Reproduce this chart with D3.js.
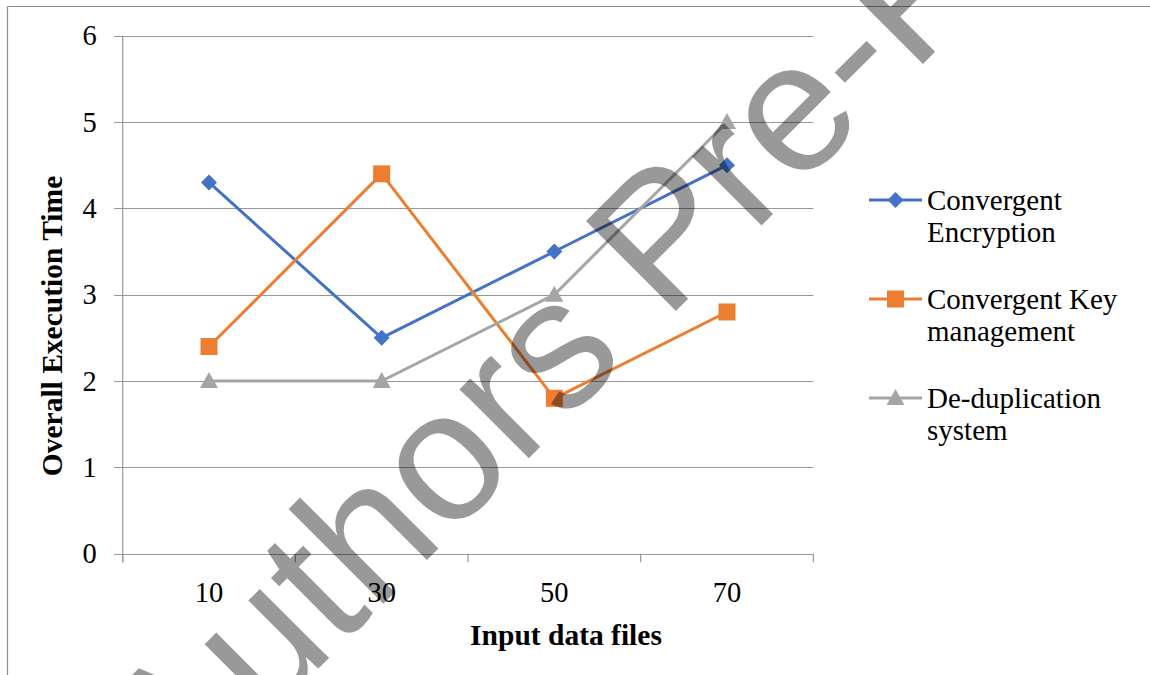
<!DOCTYPE html>
<html>
<head>
<meta charset="utf-8">
<script src="https://cdn.jsdelivr.net/npm/d3@7/dist/d3.min.js"></script>
<style>
  html, body { margin: 0; padding: 0; background: #fff; }
  svg { display: block; }
</style>
</head>
<body>
<svg id="chart" width="1150" height="675"></svg>
<script>
// Data
const categories = ["10", "30", "50", "70"];
const yTicks = [0, 1, 2, 3, 4, 5, 6];
const convergentEncryption = [4.3, 2.5, 3.5, 4.5];
const convergentKeyManagement = [2.4, 4.4, 1.8, 2.8];
const deduplicationSystem = [2.0, 2.0, 3.0, 5.0];
const seriesNames = [["Convergent", "Encryption"], ["Convergent Key", "management"], ["De-duplication", "system"]];

const series = [
  { name: seriesNames[0], values: convergentEncryption, color: "#4472c4", marker: "diamond" },
  { name: seriesNames[1], values: convergentKeyManagement, color: "#ed7d31", marker: "square" },
  { name: seriesNames[2], values: deduplicationSystem, color: "#a5a5a5", marker: "triangle" }
];

const svg = d3.select("#chart");
const serif = "'Liberation Serif', 'Times New Roman', serif";

// Outer frame (top and left edges visible)
svg.append("line").attr("x1", 7.5).attr("x2", 1150).attr("y1", 6.5).attr("y2", 6.5)
  .attr("stroke", "#8c8c8c").attr("stroke-width", 1.2);
svg.append("line").attr("x1", 7.5).attr("x2", 7.5).attr("y1", 6.5).attr("y2", 675)
  .attr("stroke", "#8c8c8c").attr("stroke-width", 1.2);

const plot = { left: 122.7, right: 813.3, top: 35.7, bottom: 553.7 };

const x = d3.scaleBand().domain(categories).range([plot.left, plot.right]).padding(0);
const y = d3.scaleLinear().domain([0, 6]).range([plot.bottom, plot.top]);

const axisColor = "#979797";

// Horizontal gridlines (extend slightly left of the axis as tick marks)
svg.append("g").selectAll("line").data(yTicks).join("line")
  .attr("x1", plot.left - 8.6).attr("x2", plot.right)
  .attr("y1", d => Math.round(y(d)) + 0.5).attr("y2", d => Math.round(y(d)) + 0.5)
  .attr("stroke", axisColor).attr("stroke-width", 1.2);

// Y axis labels
const yAxis = d3.axisLeft(y).tickValues(yTicks).tickSize(0).tickPadding(26).tickFormat(d3.format("d"));
const gy = svg.append("g").attr("transform", `translate(${plot.left},0)`).call(yAxis);
gy.select(".domain").remove();
gy.selectAll("text").attr("font-family", serif).attr("font-size", 28.5).attr("fill", "#000");

// Vertical axis line
svg.append("line").attr("x1", plot.left).attr("x2", plot.left)
  .attr("y1", plot.top).attr("y2", plot.bottom + 8.5)
  .attr("stroke", axisColor).attr("stroke-width", 1.2);

// X axis: category labels at band centers, ticks on band edges
const xAxis = d3.axisBottom(x).tickSize(0).tickPadding(28);
const gx = svg.append("g").attr("transform", `translate(0,${plot.bottom})`).call(xAxis);
gx.select(".domain").remove();
gx.selectAll("text").attr("font-family", serif).attr("font-size", 28.5).attr("fill", "#000");

const edges = categories.map(c => x(c)).concat([x(categories[categories.length - 1]) + x.bandwidth()]);
svg.append("g").selectAll("line").data(edges).join("line")
  .attr("x1", d => d).attr("x2", d => d)
  .attr("y1", plot.bottom).attr("y2", plot.bottom + 8.5)
  .attr("stroke", axisColor).attr("stroke-width", 1.2);

// Axis titles
svg.append("text")
  .attr("x", 566).attr("y", 645)
  .attr("text-anchor", "middle")
  .attr("font-family", serif).attr("font-size", 29.5).attr("font-weight", "bold")
  .text("Input data files");

svg.append("text")
  .attr("transform", "translate(61.5,326) rotate(-90)")
  .attr("text-anchor", "middle")
  .attr("font-family", serif).attr("font-size", 29.5).attr("font-weight", "bold")
  .text("Overall Execution Time");

// Marker shapes
function markerPath(type) {
  if (type === "diamond") return "M0,-8L8,0L0,8L-8,0Z";
  if (type === "square") return "M-8.5,-8.5H8.5V8.5H-8.5Z";
  return "M0,-9L9,7L-9,7Z";
}

const line = d3.line()
  .x((d, i) => x(categories[i]) + x.bandwidth() / 2)
  .y(d => y(d));

series.forEach(s => {
  const g = svg.append("g");
  g.append("path").datum(s.values)
    .attr("d", line)
    .attr("fill", "none").attr("stroke", s.color).attr("stroke-width", 3)
    .attr("stroke-linejoin", "round");
  g.selectAll("path.m").data(s.values).join("path").attr("class", "m")
    .attr("transform", (d, i) => `translate(${x(categories[i]) + x.bandwidth() / 2},${y(d)})`)
    .attr("d", markerPath(s.marker))
    .attr("fill", s.color);
});

// Legend
const legendRows = [200, 299, 398];
series.forEach((s, i) => {
  const g = svg.append("g").attr("transform", `translate(0,${legendRows[i]})`);
  g.append("line").attr("x1", 869).attr("x2", 922).attr("y1", 0).attr("y2", 0)
    .attr("stroke", s.color).attr("stroke-width", 3);
  g.append("path").attr("transform", "translate(895.5,0)").attr("d", markerPath(s.marker)).attr("fill", s.color);
  const t = g.append("text").attr("font-family", serif).attr("font-size", 29).attr("fill", "#000");
  s.name.forEach((ln, k) => {
    t.append("tspan").attr("x", 927).attr("y", 9.5 + k * 32.5).text(ln);
  });
});

// Watermark across the figure
svg.append("text")
  .attr("transform", "translate(178,809) rotate(-45)")
  .attr("font-family", "'Liberation Sans', Arial, sans-serif")
  .attr("font-size", 185)
  .attr("fill", "#000").attr("fill-opacity", 0.4)
  .text("Authors Pre-Proof");
</script>
</body>
</html>
